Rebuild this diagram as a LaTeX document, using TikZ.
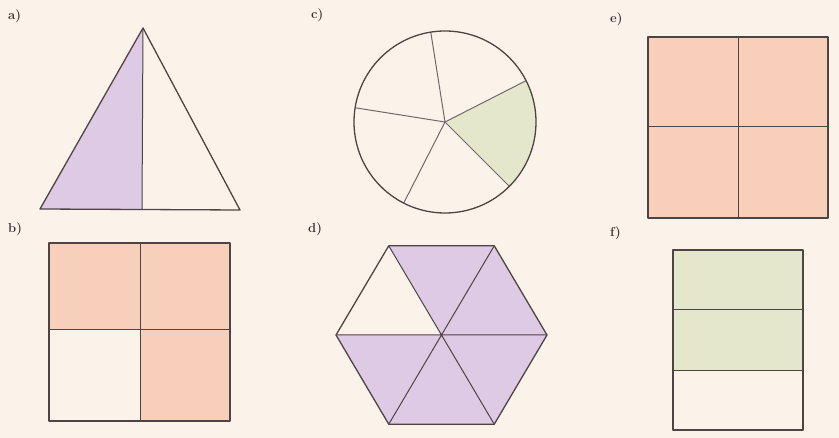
\documentclass[tikz,border=0pt]{standalone}
\usetikzlibrary{calc}
\begin{document}
\begin{tikzpicture}[x=1pt,y=-1pt,
  edge/.style={draw=lineC,line width=1.3pt,line join=round},
  inner/.style={draw=lineC,line width=1pt},
  lbl/.style={font=\bfseries\fontsize{13}{15}\selectfont,text=labelC,anchor=west,inner sep=0pt}]
\definecolor{bgC}{HTML}{FBF3EA}
\definecolor{lineC}{HTML}{4E4444}
\definecolor{labelC}{HTML}{3A3333}
\definecolor{purpC}{HTML}{DECAE5}
\definecolor{salmC}{HTML}{F7CFBB}
\definecolor{grnC}{HTML}{E4E7CB}
\fill[bgC] (0,0) rectangle (839,438);
\useasboundingbox (0,0) rectangle (839,438);
% labels
\node[lbl] (la) at (8,16) {a)};
\node[lbl] (lb) at (8,229) {b)};
\node[lbl] (lc) at (311,15) {c)};
\node[lbl] (ld) at (308,229) {d)};
\node[lbl] (le) at (610,19) {e)};
\node[lbl] (lf) at (610,233) {f)};
% a) triangle
\coordinate (ta) at (143,28);
\coordinate (tl) at (40,209);
\coordinate (tr) at (240,210);
\coordinate (tm) at (142,209.5);
\fill[purpC] (ta) -- (tl) -- (tm) -- cycle;
\draw[inner] (ta) -- (tm);
\draw[edge] (ta) -- (tl) -- (tr) -- cycle;
% b) square
\coordinate (b1) at (49,243);
\coordinate (b2) at (230,421);
\fill[salmC] (49,243) rectangle (230,330);
\fill[salmC] (140,330) rectangle (230,421);
\draw[inner] (140,243) -- (140,421);
\draw[inner] (49,330) -- (230,330);
\draw[edge] (b1) rectangle (b2);
% c) circle
\coordinate (cc) at (445,122);
\fill[grnC] (cc) -- ($(cc)+(-45:91pt)$) arc[start angle=-45,end angle=27,radius=91pt] -- cycle;
\foreach \a in {27,99,171,243,315}
  \draw[inner,draw=lineC!80] (cc) -- +(\a:91pt);
\draw[edge] (cc) circle[radius=91pt];
% d) hexagon
\coordinate (hc) at (441.5,335);
\foreach \i/\a in {0/0,1/60,2/120,3/180,4/240,5/300}
  \coordinate (h\i) at ($(hc)+(\a:105.5pt and 103pt)$);
\fill[purpC] (hc) -- (h0) -- (h1) -- (h2) -- cycle;
\fill[purpC] (hc) -- (h3) -- (h4) -- (h5) -- (h0) -- cycle;
\draw[inner] (h0) -- (h3) (h1) -- (h4) (h2) -- (h5);
\draw[edge] (h0) -- (h1) -- (h2) -- (h3) -- (h4) -- (h5) -- cycle;
% e) square
\coordinate (e1) at (648,37);
\coordinate (e2) at (828,218);
\fill[salmC] (e1) rectangle (e2);
\draw[inner] (738,37) -- (738,218);
\draw[inner] (648,127) -- (828,127);
\draw[edge] (e1) rectangle (e2);
% f) rectangle
\coordinate (f1) at (673,250);
\coordinate (f2) at (803,430);
\fill[grnC] (673,250) rectangle (803,371);
\draw[inner] (673,310) -- (803,310);
\draw[inner] (673,371) -- (803,371);
\draw[edge] (f1) rectangle (f2);
\end{tikzpicture}
\end{document}
